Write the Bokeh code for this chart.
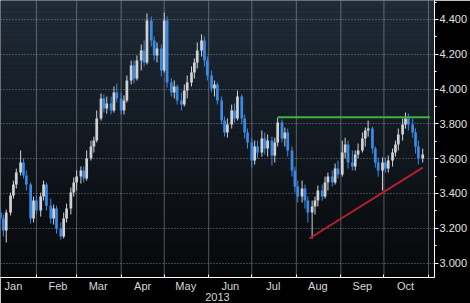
import pandas as pd
from datetime import datetime
from bokeh.plotting import figure
from bokeh.models import (Range1d, FixedTicker, Label, ColumnDataSource, Span,
                          NumeralTickFormatter, DatetimeTickFormatter)
from bokeh.embed import file_html
from bokeh.resources import INLINE

# ---------------- data ----------------
dates = [d for d in pd.date_range("2013-01-07", "2013-10-28") if d.weekday() in (0, 2, 4)]

open_ = [3.290, 3.256, 3.187, 3.290, 3.388, 3.451, 3.520, 3.578, 3.503, 3.451, 3.256, 3.359,
         3.302, 3.382, 3.451, 3.330, 3.256, 3.313, 3.198, 3.152, 3.256, 3.313, 3.405, 3.463,
         3.497, 3.532, 3.486, 3.601, 3.670, 3.704, 3.831, 3.946, 3.888, 3.917, 3.877, 3.980,
         3.946, 3.877, 3.934, 4.049, 4.136, 4.061, 4.164, 4.222, 4.153, 4.394, 4.279, 4.193,
         4.233, 4.107, 4.394, 4.038, 3.980, 4.015, 3.934, 3.911, 3.992, 4.038, 4.095, 4.153,
         4.222, 4.279, 4.164, 4.078, 4.003, 4.026, 3.934, 3.819, 3.750, 3.796, 3.877, 3.831,
         3.957, 3.831, 3.750, 3.693, 3.589, 3.670, 3.635, 3.716, 3.658, 3.704, 3.618, 3.693,
         3.808, 3.716, 3.750, 3.647, 3.532, 3.440, 3.382, 3.428, 3.359, 3.290, 3.325, 3.359,
         3.417, 3.382, 3.463, 3.497, 3.463, 3.543, 3.509, 3.635, 3.681, 3.578, 3.555, 3.624,
         3.647, 3.716, 3.762, 3.773, 3.658, 3.578, 3.532, 3.578, 3.543, 3.589, 3.635, 3.681,
         3.739, 3.796, 3.831, 3.796, 3.750, 3.670, 3.601]
high = [3.319, 3.279, 3.307, 3.405, 3.474, 3.543, 3.647, 3.601, 3.532, 3.463, 3.382, 3.388,
        3.405, 3.474, 3.463, 3.371, 3.336, 3.330, 3.233, 3.290, 3.342, 3.434, 3.492, 3.532,
        3.555, 3.555, 3.647, 3.704, 3.727, 3.877, 3.975, 3.969, 3.957, 3.957, 4.015, 4.032,
        3.980, 3.963, 4.078, 4.164, 4.164, 4.193, 4.256, 4.279, 4.435, 4.417, 4.302, 4.268,
        4.256, 4.440, 4.417, 4.061, 4.049, 4.026, 3.980, 4.026, 4.078, 4.130, 4.176, 4.268,
        4.314, 4.302, 4.187, 4.107, 4.049, 4.038, 3.957, 3.842, 3.831, 3.911, 3.917, 3.992,
        3.969, 3.854, 3.773, 3.716, 3.704, 3.704, 3.762, 3.750, 3.739, 3.727, 3.721, 3.836,
        3.825, 3.779, 3.773, 3.670, 3.555, 3.474, 3.474, 3.451, 3.382, 3.359, 3.382, 3.446,
        3.451, 3.497, 3.520, 3.532, 3.572, 3.589, 3.704, 3.721, 3.704, 3.647, 3.647, 3.687,
        3.750, 3.779, 3.819, 3.785, 3.670, 3.607, 3.607, 3.607, 3.618, 3.658, 3.704, 3.773,
        3.831, 3.865, 3.859, 3.831, 3.773, 3.704, 3.658]
low = [3.221, 3.152, 3.118, 3.273, 3.371, 3.428, 3.503, 3.486, 3.417, 3.227, 3.233, 3.279,
       3.267, 3.359, 3.302, 3.227, 3.221, 3.169, 3.135, 3.141, 3.233, 3.279, 3.382, 3.417,
       3.457, 3.463, 3.474, 3.589, 3.635, 3.693, 3.819, 3.865, 3.859, 3.854, 3.865, 3.923,
       3.854, 3.854, 3.923, 4.026, 4.032, 4.049, 4.107, 4.130, 4.141, 4.245, 4.164, 4.153,
       4.072, 4.095, 4.009, 3.957, 3.946, 3.911, 3.877, 3.900, 3.946, 4.015, 4.061, 4.118,
       4.187, 4.130, 4.049, 3.980, 3.957, 3.911, 3.796, 3.727, 3.721, 3.773, 3.808, 3.819,
       3.796, 3.716, 3.658, 3.549, 3.566, 3.601, 3.612, 3.624, 3.612, 3.561, 3.578, 3.670,
       3.693, 3.670, 3.612, 3.497, 3.405, 3.348, 3.348, 3.313, 3.233, 3.141, 3.279, 3.325,
       3.359, 3.371, 3.417, 3.440, 3.451, 3.486, 3.497, 3.601, 3.543, 3.532, 3.532, 3.601,
       3.635, 3.670, 3.727, 3.629, 3.549, 3.497, 3.417, 3.520, 3.520, 3.555, 3.612, 3.647,
       3.704, 3.773, 3.762, 3.721, 3.629, 3.566, 3.578]
close = [3.256, 3.187, 3.290, 3.388, 3.451, 3.520, 3.578, 3.503, 3.451, 3.256, 3.359, 3.302,
         3.382, 3.451, 3.330, 3.256, 3.313, 3.198, 3.152, 3.256, 3.313, 3.405, 3.463, 3.497,
         3.532, 3.486, 3.601, 3.670, 3.704, 3.831, 3.946, 3.888, 3.917, 3.877, 3.980, 3.946,
         3.877, 3.934, 4.049, 4.136, 4.061, 4.164, 4.222, 4.153, 4.394, 4.279, 4.193, 4.233,
         4.107, 4.394, 4.038, 3.980, 4.015, 3.934, 3.911, 3.992, 4.038, 4.095, 4.153, 4.222,
         4.279, 4.164, 4.078, 4.003, 4.026, 3.934, 3.819, 3.750, 3.796, 3.877, 3.831, 3.957,
         3.831, 3.750, 3.693, 3.589, 3.670, 3.635, 3.716, 3.658, 3.704, 3.618, 3.693, 3.808,
         3.716, 3.750, 3.647, 3.532, 3.440, 3.382, 3.428, 3.359, 3.290, 3.325, 3.359, 3.417,
         3.382, 3.463, 3.497, 3.463, 3.543, 3.509, 3.635, 3.681, 3.578, 3.555, 3.624, 3.647,
         3.716, 3.762, 3.773, 3.658, 3.578, 3.532, 3.578, 3.543, 3.589, 3.635, 3.681, 3.739,
         3.796, 3.831, 3.796, 3.750, 3.670, 3.601, 3.624]

last_value = 3.624
resistance_dates = [datetime(2013, 7, 19), datetime(2013, 11, 2)]
resistance_values = [3.838, 3.838]
support_dates = [datetime(2013, 8, 10), datetime(2013, 10, 28)]
support_values = [3.141, 3.549]

month_labels = ["Jan", "Feb", "Mar", "Apr", "May", "Jun", "Jul", "Aug", "Sep", "Oct"]
month_mid = [datetime(2013, m, 16) for m in range(1, 11)]
month_start = [datetime(2013, m, 1) for m in range(2, 12)]
y_ticks = [3.0, 3.2, 3.4, 3.6, 3.8, 4.0, 4.2, 4.4]
y_minor = [2.9, 3.1, 3.3, 3.5, 3.7, 3.9, 4.1, 4.3, 4.5]
year_label = "2013"

# ---------------- figure ----------------
UP = "#cfd2d5"
DOWN = "#3a8ae4"
GRID = "#8d9399"
x0 = datetime(2013, 1, 7, 0)
x1 = datetime(2013, 11, 5, 5)
y0, y1 = 2.917, 4.509

def ms(d):
    return float(pd.Timestamp(d).value // 10**6)

p = figure(width=470, height=303, x_axis_type="datetime", y_axis_location="right",
           output_backend="svg", toolbar_location=None,
           x_range=Range1d(x0, x1), y_range=Range1d(y0, y1),
           min_border_left=0, min_border_top=0, min_border_right=34, min_border_bottom=26)
p.border_fill_color = "black"
p.background_fill_color = "#10151b"
p.outline_line_color = None

# gradient background bands
def lerp(c1, c2, t):
    return tuple(int(round(a + (b - a) * t)) for a, b in zip(c1, c2))

top_c, mid_c, bot_c = (31, 43, 56), (18, 25, 33), (6, 7, 9)
n = 60
bands_b, bands_t, bands_c = [], [], []
for i in range(n):
    t = i / (n - 1)
    c = lerp(top_c, mid_c, t * 2) if t < 0.5 else lerp(mid_c, bot_c, (t - 0.5) * 2)
    hi = y1 - (y1 - y0) * i / n
    lo = y1 - (y1 - y0) * (i + 1) / n
    bands_b.append(lo)
    bands_t.append(hi)
    bands_c.append("#%02x%02x%02x" % c)
p.quad(left=x0, right=x1, bottom=bands_b, top=bands_t, fill_color=bands_c,
       line_color=None, level="image")

# vertical month-start grid lines (solid, faint)
for d in month_start:
    p.add_layout(Span(location=ms(d), dimension="height", line_color="#b0b6bc",
                      line_alpha=0.45, line_width=1, level="underlay"))

colors = [UP if c >= o else DOWN for o, c in zip(open_, close)]
src = ColumnDataSource(dict(date=dates, open=open_, high=high, low=low, close=close, color=colors))
p.segment(x0="date", y0="high", x1="date", y1="low", color="color", line_width=1, source=src)
p.vbar(x="date", width=1.9 * 86400000, top="open", bottom="close",
       fill_color="color", line_color=None, source=src)

p.line(resistance_dates, resistance_values, line_color="#3db33d", line_width=2)
p.line(support_dates, support_values, line_color="#b3202e", line_width=2)

# x axis
xa = p.xaxis[0]
xa.ticker = FixedTicker(ticks=[ms(d) for d in month_mid],
                        minor_ticks=[ms(d) for d in month_start])
fmt = "%b"
xa.formatter = DatetimeTickFormatter(microseconds=fmt, milliseconds=fmt, seconds=fmt,
                                     minsec=fmt, minutes=fmt, hourmin=fmt, hours=fmt,
                                     days=fmt, months=fmt, years=fmt)
xa.axis_line_color = "white"
xa.major_tick_line_color = None
xa.major_tick_in = 0
xa.major_tick_out = 0
xa.minor_tick_line_color = "white"
xa.minor_tick_in = 3
xa.minor_tick_out = 0
xa.major_label_text_color = "#d8d8d8"
xa.major_label_text_font = "Liberation Sans"
xa.major_label_text_font_size = "11px"
xa.major_label_standoff = 2
xa.axis_label = year_label
xa.axis_label_text_color = "#d8d8d8"
xa.axis_label_text_font = "Liberation Sans"
xa.axis_label_text_font_size = "11px"
xa.axis_label_text_font_style = "normal"
xa.axis_label_standoff = -2

p.xgrid.grid_line_color = None
p.ygrid.grid_line_color = GRID
p.ygrid.grid_line_alpha = 0.8
p.ygrid.grid_line_dash = "1 2"

# y axis
ya = p.yaxis[0]
ya.ticker = FixedTicker(ticks=y_ticks, minor_ticks=y_minor)
ya.formatter = NumeralTickFormatter(format="0.000")
ya.axis_line_color = "white"
ya.major_tick_line_color = "white"
ya.major_tick_in = 0
ya.major_tick_out = 4
ya.minor_tick_line_color = "white"
ya.minor_tick_in = 0
ya.minor_tick_out = 2
ya.major_label_text_color = "#e0e0e0"
ya.major_label_text_font = "Liberation Sans"
ya.major_label_text_font_size = "11px"
ya.major_label_standoff = 1

lbl = Label(x=437, x_units="screen", y=last_value, y_units="data", text="%.3f" % last_value,
            text_baseline="middle", text_font="Liberation Sans", text_font_size="11px",
            text_color="#202020", background_fill_color="#f0f0f0",
            border_line_color="#909090", padding=1)
p.add_layout(lbl)

open("out.html", "w").write(file_html(p, INLINE))
